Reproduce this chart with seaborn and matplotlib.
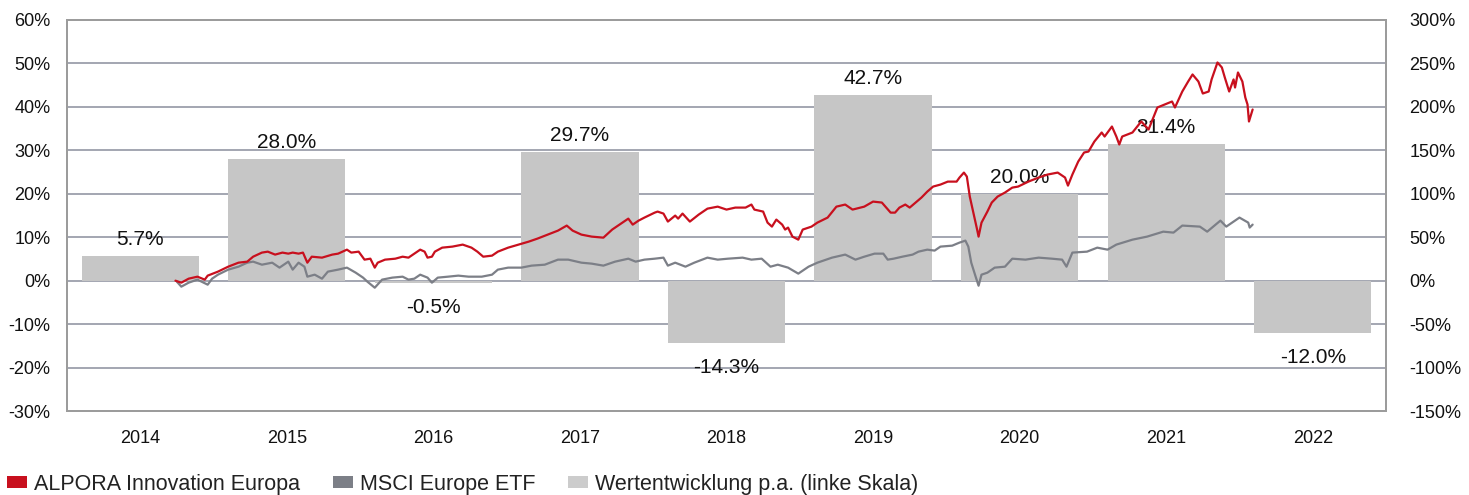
import numpy as np
import pandas as pd
import matplotlib
matplotlib.use("Agg")
import matplotlib.pyplot as plt
from matplotlib.patches import Patch
import seaborn as sns

# ---------------- data ----------------
years = [2014, 2015, 2016, 2017, 2018, 2019, 2020, 2021, 2022]
annual_perf = [5.7, 28.0, -0.5, 29.7, -14.3, 42.7, 20.0, 31.4, -12.0]   # left axis, %

alpora_dates = [
    2014.74, 2014.78, 2014.83, 2014.89, 2014.94, 2014.96, 2015.03, 2015.10, 2015.17, 2015.23,
    2015.27, 2015.33, 2015.37, 2015.42, 2015.47, 2015.51, 2015.54, 2015.58, 2015.61, 2015.64,
    2015.67, 2015.74, 2015.81, 2015.85, 2015.91, 2015.94, 2015.99, 2016.03, 2016.07, 2016.10,
    2016.12, 2016.17, 2016.24, 2016.29, 2016.33, 2016.37, 2016.41, 2016.44, 2016.46, 2016.49,
    2016.51, 2016.56, 2016.63, 2016.70, 2016.76, 2016.80, 2016.84, 2016.90, 2016.94, 2017.01,
    2017.08, 2017.15, 2017.21, 2017.28, 2017.35, 2017.41, 2017.45, 2017.51, 2017.58, 2017.66,
    2017.72, 2017.76, 2017.83, 2017.86, 2017.90, 2017.94, 2018.01, 2018.03, 2018.07, 2018.10,
    2018.15, 2018.17, 2018.20, 2018.25, 2018.31, 2018.37, 2018.44, 2018.50, 2018.56, 2018.63,
    2018.67, 2018.69, 2018.75, 2018.78, 2018.81, 2018.84, 2018.88, 2018.90, 2018.92, 2018.95,
    2018.99, 2019.02, 2019.08, 2019.12, 2019.19, 2019.25, 2019.31, 2019.36, 2019.44, 2019.50,
    2019.56, 2019.62, 2019.65, 2019.68, 2019.72, 2019.75, 2019.79, 2019.83, 2019.87, 2019.91,
    2019.96, 2020.01, 2020.07, 2020.09, 2020.12, 2020.14, 2020.16, 2020.18, 2020.21, 2020.22,
    2020.24, 2020.28, 2020.31, 2020.35, 2020.40, 2020.45, 2020.49, 2020.56, 2020.63, 2020.69,
    2020.76, 2020.81, 2020.83, 2020.86, 2020.90, 2020.94, 2020.97, 2021.01, 2021.06, 2021.08,
    2021.13, 2021.16, 2021.18, 2021.20, 2021.27, 2021.33, 2021.38, 2021.44, 2021.49, 2021.54,
    2021.56, 2021.61, 2021.65, 2021.68, 2021.72, 2021.75, 2021.79, 2021.81, 2021.85, 2021.88,
    2021.90, 2021.93, 2021.96, 2021.97, 2021.99, 2022.02, 2022.04, 2022.055, 2022.065, 2022.09,
]
alpora_vals = [
    0.0, -2.3, 2.3, 4.6, 1.2, 5.8, 10.4, 16.1, 20.7, 21.9,
    27.6, 32.3, 33.4, 30.0, 32.3, 31.1, 32.3, 31.1, 32.3, 20.7,
    27.6, 26.5, 30.0, 31.1, 35.7, 32.3, 33.4, 24.2, 25.3, 15.0,
    20.7, 24.2, 25.3, 27.6, 26.5, 31.1, 35.7, 33.4, 26.5, 27.6,
    33.4, 38.0, 39.2, 41.5, 38.0, 33.4, 27.6, 28.8, 33.4, 38.0,
    41.5, 44.9, 48.4, 53.0, 57.6, 63.4, 57.6, 53.0, 50.7, 49.5,
    58.8, 63.4, 71.4, 64.5, 69.1, 72.6, 78.3, 79.5, 77.2, 68.0,
    74.9, 71.4, 77.2, 68.0, 76.0, 82.9, 85.2, 81.8, 84.1, 84.1,
    87.6, 81.8, 79.5, 66.8, 62.2, 70.3, 64.5, 58.8, 61.1, 50.7,
    47.2, 58.8, 62.2, 66.8, 72.6, 85.2, 87.6, 81.8, 85.2, 91.0,
    89.9, 78.3, 78.3, 84.1, 87.6, 84.1, 89.9, 95.6, 102.5, 108.3,
    110.6, 114.0, 114.0, 118.7, 124.4, 119.8, 96.8, 81.8, 58.8, 50.7,
    66.8, 79.5, 89.9, 96.8, 101.4, 107.1, 108.3, 114.0, 118.7, 122.1,
    124.4, 118.7, 109.4, 122.1, 137.1, 147.5, 148.6, 160.1, 170.5, 165.9,
    177.4, 165.9, 156.7, 165.9, 170.5, 183.2, 174.0, 199.3, 202.8, 206.2,
    199.3, 217.7, 229.2, 237.3, 229.2, 215.4, 217.7, 231.6, 251.1, 245.4,
    233.9, 217.7, 231.6, 222.3, 239.6, 229.2, 210.8, 202.8, 183.2, 197.0,
]

msci_dates = [
    2014.75, 2014.78, 2014.83, 2014.89, 2014.96, 2014.99, 2015.03, 2015.10, 2015.17, 2015.23,
    2015.27, 2015.33, 2015.40, 2015.45, 2015.51, 2015.54, 2015.58, 2015.62, 2015.64, 2015.69,
    2015.74, 2015.78, 2015.85, 2015.91, 2015.97, 2016.02, 2016.05, 2016.10, 2016.15, 2016.22,
    2016.29, 2016.33, 2016.37, 2016.41, 2016.46, 2016.49, 2016.53, 2016.60, 2016.67, 2016.74,
    2016.83, 2016.90, 2016.94, 2017.01, 2017.10, 2017.17, 2017.26, 2017.35, 2017.42, 2017.51,
    2017.58, 2017.66, 2017.74, 2017.83, 2017.88, 2017.94, 2018.01, 2018.07, 2018.10, 2018.15,
    2018.22, 2018.28, 2018.37, 2018.44, 2018.51, 2018.61, 2018.67, 2018.74, 2018.80, 2018.85,
    2018.92, 2018.99, 2019.06, 2019.12, 2019.22, 2019.31, 2019.38, 2019.44, 2019.51, 2019.57,
    2019.60, 2019.64, 2019.70, 2019.77, 2019.81, 2019.87, 2019.92, 2019.96, 2020.04, 2020.09,
    2020.13, 2020.15, 2020.17, 2020.20, 2020.22, 2020.24, 2020.28, 2020.33, 2020.40, 2020.45,
    2020.54, 2020.63, 2020.72, 2020.79, 2020.82, 2020.86, 2020.96, 2021.03, 2021.10, 2021.16,
    2021.27, 2021.37, 2021.48, 2021.55, 2021.61, 2021.73, 2021.78, 2021.87, 2021.91, 2022.00,
    2022.06, 2022.07, 2022.09,
]
msci_vals = [
    -1.2, -6.9, -2.3, 1.2, -4.6, 2.3, 6.9, 12.7, 16.1, 20.7,
    21.9, 18.4, 20.7, 15.0, 21.9, 12.7, 20.7, 16.1, 4.6, 6.9,
    2.3, 10.4, 12.7, 15.0, 9.2, 3.5, -1.2, -8.1, 1.2, 3.5,
    4.6, 1.2, 2.3, 6.9, 3.5, -2.3, 3.5, 4.6, 5.8, 4.6,
    4.6, 6.9, 12.7, 15.0, 15.0, 17.3, 18.4, 24.2, 24.2, 20.7,
    19.6, 17.3, 21.9, 25.3, 21.9, 24.2, 25.3, 26.5, 17.3, 20.7,
    16.1, 20.7, 26.5, 24.2, 25.3, 26.5, 24.2, 25.3, 16.1, 18.4,
    15.0, 8.1, 16.1, 20.7, 26.5, 30.0, 24.2, 27.6, 31.1, 31.1,
    24.2, 25.3, 27.6, 30.0, 33.4, 35.7, 34.6, 39.2, 40.3, 43.8,
    46.1, 39.2, 20.7, 4.6, -5.8, 6.9, 9.2, 15.0, 16.1, 25.3,
    24.2, 26.5, 25.3, 24.2, 16.1, 32.3, 33.4, 38.0, 35.7, 41.5,
    47.2, 50.7, 56.4, 55.3, 63.4, 62.2, 56.4, 69.1, 62.2, 72.6,
    66.8, 61.1, 64.5,
]

left_ticks = [-30, -20, -10, 0, 10, 20, 30, 40, 50, 60]
right_ticks = [-150, -100, -50, 0, 50, 100, 150, 200, 250, 300]

labels = ["ALPORA Innovation Europa", "MSCI Europe ETF", "Wertentwicklung p.a. (linke Skala)"]

# ---------------- style ----------------
RED = "#C8101E"
GRAY = "#7C7F87"
BAR = "#C6C6C6"
GRID = "#A3A6B1"
SPINE = "#9C9C9C"

sns.set_theme(style="white")
plt.rcParams["font.family"] = ["Liberation Sans", "DejaVu Sans"]

fig = plt.figure(figsize=(14.69, 4.95), dpi=100)
ax = fig.add_axes([67 / 1469, 84 / 495, (1386 - 67) / 1469, (411 - 20) / 495])

bar_df = pd.DataFrame({"x": np.array(years) + 0.5, "v": annual_perf})
sns.barplot(data=bar_df, x="x", y="v", native_scale=True, width=0.8,
            color=BAR, saturation=1, ax=ax, zorder=2, edgecolor="none", linewidth=0)

ax.set_xlim(years[0], years[-1] + 1)
ax.set_ylim(left_ticks[0], left_ticks[-1])
ax.set_yticks(left_ticks)
ax.set_yticklabels([f"{t}%" for t in left_ticks])
ax.set_xticks(np.array(years) + 0.5)
ax.set_xticklabels([str(y) for y in years])
ax.set_xlabel("")
ax.set_ylabel("")
ax.yaxis.grid(True, color=GRID, linewidth=1.4, zorder=0)
ax.xaxis.grid(False)
ax.set_axisbelow(True)
ax.tick_params(axis="y", length=0, pad=12, labelsize=13, colors="#111111")
ax.tick_params(axis="x", length=0, pad=14, labelsize=13, colors="#111111")
for s in ax.spines.values():
    s.set_color(SPINE)
    s.set_linewidth(1.4)

for yr, v in zip(years, annual_perf):
    if v >= 0:
        ax.annotate(f"{v:.1f}%", (yr + 0.5, v), xytext=(0, 5), textcoords="offset points",
                    ha="center", va="bottom", fontsize=15, color="#111111", zorder=3)
    else:
        ax.annotate(f"{v:.1f}%", (yr + 0.5, v), xytext=(0, -11), textcoords="offset points",
                    ha="center", va="top", fontsize=15, color="#111111", zorder=3)

ax2 = ax.twinx()
sns.lineplot(x=msci_dates, y=msci_vals, ax=ax2, color=GRAY, linewidth=1.6, estimator=None, sort=False)
sns.lineplot(x=alpora_dates, y=alpora_vals, ax=ax2, color=RED, linewidth=1.6, estimator=None, sort=False)
ax2.set_ylim(right_ticks[0], right_ticks[-1])
ax2.set_yticks(right_ticks)
ax2.set_yticklabels([f"{t}%" for t in right_ticks])
ax2.set_xlim(years[0], years[-1] + 1)
ax2.grid(False)
ax2.tick_params(axis="y", length=0, pad=17, labelsize=13, colors="#111111")
for s in ax2.spines.values():
    s.set_color(SPINE)
    s.set_linewidth(1.4)

handles = [Patch(facecolor=RED, edgecolor="none"),
           Patch(facecolor=GRAY, edgecolor="none"),
           Patch(facecolor="#CCCCCC", edgecolor="none")]
fig.legend(handles, labels, loc="center left", bbox_to_anchor=(0.005, 0.022), ncol=3,
           frameon=False, fontsize=15.5, handlelength=0.93, handleheight=0.55,
           handletextpad=0.33, columnspacing=1.5, borderpad=0, borderaxespad=0,
           labelcolor="#222222")

fig.savefig("out.png", dpi=100)
